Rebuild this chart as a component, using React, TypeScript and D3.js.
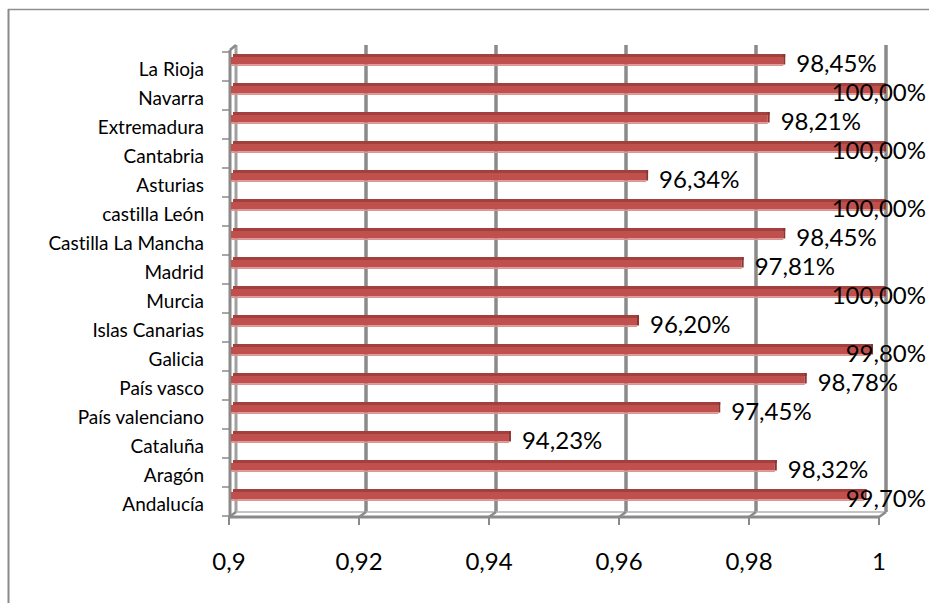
import React, { useEffect, useRef } from "react";
import * as d3 from "d3";

const categories = [
  "La Rioja", "Navarra", "Extremadura", "Cantabria", "Asturias", "castilla León",
  "Castilla La Mancha", "Madrid", "Murcia", "Islas Canarias", "Galicia", "País vasco",
  "País valenciano", "Cataluña", "Aragón", "Andalucía",
];
const values = [
  0.9845, 1.0, 0.9821, 1.0, 0.9634, 1.0, 0.9845, 0.9781, 1.0, 0.962, 0.998, 0.9878,
  0.9745, 0.9423, 0.9832, 0.997,
];
const xTicks = [0.9, 0.92, 0.94, 0.96, 0.98, 1];

const W = 929;
const H = 603;
const FONT = "Lato, 'Open Sans', sans-serif";

export default function App() {
  const ref = useRef<SVGSVGElement>(null);

  useEffect(() => {
    const svg = d3.select(ref.current);
    svg.selectAll("*").remove();
    svg.style("font-variant-ligatures", "none").style("font-feature-settings", "'liga' 0, 'clig' 0");

    const depthX = 7;
    const depthY = 5;
    const floorY = 517;
    const xFront = d3.scaleLinear().domain([0.9, 1]).range([229, 879]);
    const xBack = (v: number) => xFront(v) + depthX;
    const y = d3.scaleBand<string>().domain(categories).range([52, 516]).paddingInner(0).paddingOuter(0);
    const grey = "#8a8a8a";

    // outer border (top + left)
    svg.append("line").attr("x1", 8).attr("x2", W).attr("y1", 9.5).attr("y2", 9.5)
      .attr("stroke", "#8f8f8f").attr("stroke-width", 1.3);
    svg.append("line").attr("x1", 8.5).attr("x2", 8.5).attr("y1", 9).attr("y2", H)
      .attr("stroke", "#8a8a8a").attr("stroke-width", 2);

    // back wall gridlines
    const gridTop = 45;
    svg.append("g").selectAll("line").data(xTicks.slice(1)).join("line")
      .attr("x1", (d) => xBack(d)).attr("x2", (d) => xBack(d))
      .attr("y1", gridTop).attr("y2", floorY - depthY)
      .attr("stroke", grey).attr("stroke-width", 3.5);

    // left wall / axis
    svg.append("line").attr("x1", xBack(0.9)).attr("x2", xBack(0.9))
      .attr("y1", gridTop).attr("y2", floorY - depthY)
      .attr("stroke", "#a0a0a0").attr("stroke-width", 3);
    svg.append("line").attr("x1", xFront(0.9) + 1).attr("x2", xFront(0.9) + 1)
      .attr("y1", gridTop + depthY).attr("y2", floorY)
      .attr("stroke", grey).attr("stroke-width", 3);
    svg.append("line").attr("x1", xFront(0.9) + 1).attr("x2", xBack(0.9))
      .attr("y1", gridTop + depthY).attr("y2", gridTop)
      .attr("stroke", grey).attr("stroke-width", 2.5);

    // left axis ticks
    const tickYs = categories.map((c) => y(c) as number).concat([y.range()[1]]);
    svg.append("g").selectAll("line").data(tickYs).join("line")
      .attr("x1", xFront(0.9) - 7).attr("x2", xFront(0.9))
      .attr("y1", (d) => d).attr("y2", (d) => d)
      .attr("stroke", grey).attr("stroke-width", 1.5);

    // floor
    svg.append("line").attr("x1", xFront(0.9)).attr("x2", xFront(1))
      .attr("y1", floorY).attr("y2", floorY).attr("stroke", grey).attr("stroke-width", 3);
    svg.append("line").attr("x1", xBack(0.9)).attr("x2", xBack(1))
      .attr("y1", floorY - depthY).attr("y2", floorY - depthY).attr("stroke", "#b0b0b0").attr("stroke-width", 1.5);
    svg.append("g").selectAll("line").data(xTicks).join("line")
      .attr("x1", (d) => xFront(d)).attr("x2", (d) => xBack(d))
      .attr("y1", floorY).attr("y2", floorY - depthY)
      .attr("stroke", grey).attr("stroke-width", 2.5);
    svg.append("g").selectAll("line").data(xTicks).join("line")
      .attr("x1", (d) => xFront(d)).attr("x2", (d) => xFront(d))
      .attr("y1", floorY).attr("y2", floorY + 8)
      .attr("stroke", grey).attr("stroke-width", 2);

    // bars
    const x0 = xBack(0.9) - 5;
    const bars = svg.append("g").selectAll("g").data(categories).join("g");
    bars.append("rect") // top face
      .attr("x", x0 + 2).attr("y", (d) => (y(d) as number) + 2)
      .attr("width", (d, i) => Math.max(0, xBack(values[i]) - x0 - 2)).attr("height", 3)
      .attr("fill", "#a2403d");
    bars.append("rect") // front face
      .attr("x", x0).attr("y", (d) => (y(d) as number) + 5)
      .attr("width", (d, i) => Math.max(0, xBack(values[i]) - x0 - 2)).attr("height", 7.5)
      .attr("fill", "#c0504d");
    bars.append("rect") // bottom light edge
      .attr("x", x0).attr("y", (d) => (y(d) as number) + 12.5)
      .attr("width", (d, i) => Math.max(0, xBack(values[i]) - x0 - 2)).attr("height", 1.5)
      .attr("fill", "#dc9593");
    bars.append("rect") // end cap
      .attr("x", (d, i) => xBack(values[i]) - 2).attr("y", (d) => (y(d) as number) + 2)
      .attr("width", 2).attr("height", 10.5)
      .attr("fill", "#8c3634");

    // category labels
    svg.append("g").selectAll("text").data(categories).join("text")
      .attr("x", 204).attr("y", (d) => (y(d) as number) + y.bandwidth() / 2 + 1.5)
      .attr("text-anchor", "end").attr("dominant-baseline", "central")
      .attr("font-family", FONT).attr("font-size", 19).attr("fill", "#000")
      .text((d) => d);

    // value labels
    const fmtPct = (v: number) => d3.format(".2f")(v * 100).replace(".", ",") + "%";
    const vl = svg.append("g").selectAll("text").data(categories).join("text")
      .attr("y", (d) => (y(d) as number) + 10)
      .attr("dominant-baseline", "central")
      .attr("font-family", FONT).attr("font-size", 24).attr("fill", "#000")
      .text((d, i) => fmtPct(values[i]));
    vl.each(function (d, i) {
      const el = this as SVGTextElement;
      const w = el.getComputedTextLength();
      let x = xBack(values[i]) + 11;
      if (x + w > 926) x = 926 - w;
      d3.select(el).attr("x", x);
    });

    // x tick labels
    const fmtTick = (v: number) => String(+v.toFixed(2)).replace(".", ",");
    svg.append("g").selectAll("text").data(xTicks).join("text")
      .attr("x", (d) => xFront(d)).attr("y", 560)
      .attr("text-anchor", "middle").attr("dominant-baseline", "central")
      .attr("font-family", FONT).attr("font-size", 24).attr("fill", "#000")
      .text((d) => fmtTick(d));
  }, []);

  return (
    <svg
      ref={ref}
      width={W}
      height={H}
      style={{ position: "absolute", left: 0, top: 0, background: "#fff" }}
    />
  );
}
